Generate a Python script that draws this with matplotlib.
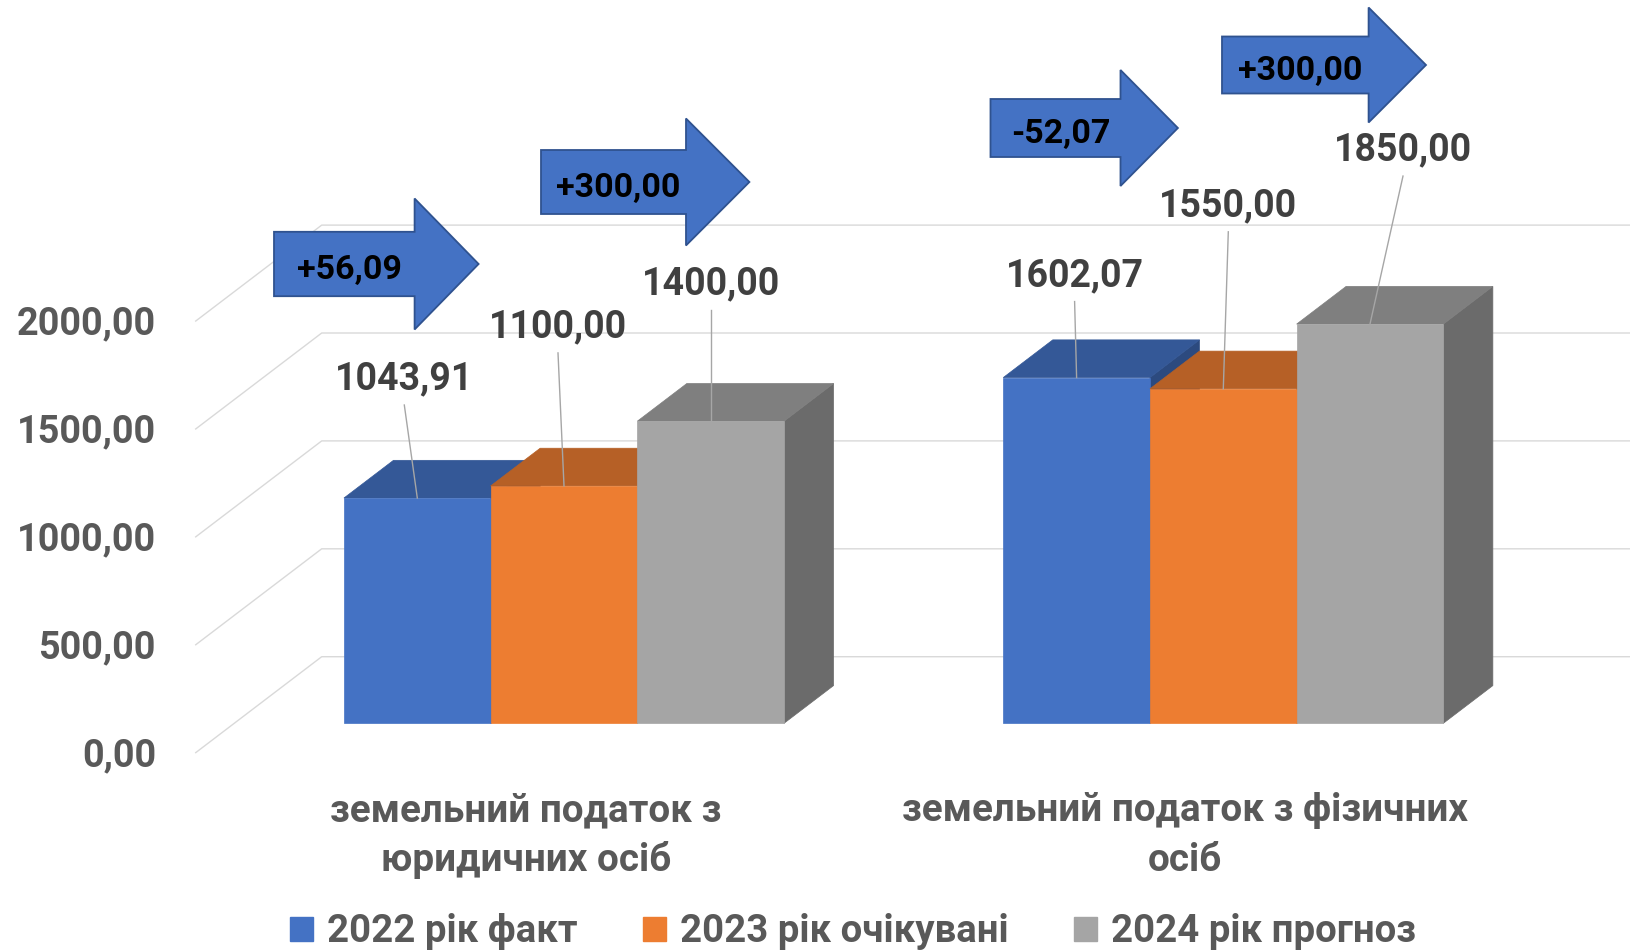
import numpy as np
import matplotlib.pyplot as plt
import matplotlib.colors as mcolors
from matplotlib.patches import Polygon, Rectangle, Patch

# дані
categories = ["земельний податок з\nюридичних осіб",
              "земельний податок з фізичних\nосіб"]
series = ["2022 рік факт", "2023 рік очікувані", "2024 рік прогноз"]
v2022 = [1043.91, 1602.07]
v2023 = [1100.00, 1550.00]
v2024 = [1400.00, 1850.00]
yticks = [0, 500, 1000, 1500, 2000]
colors = ["#4472C4", "#ED7D31", "#A5A5A5"]

values = [v2022, v2023, v2024]

# геометрія "3D" (пікселі картинки 1631x951)
W, H = 1631, 951
PXX, PXY = 659.3, 0.2158      # px на одиницю категорії / на одиницю значення
X0, Y0 = 564, 723.3           # положення (0, 0) у пікселях


def px(x, y):
    return (x - X0) / PXX, (Y0 - y) / PXY


def fmt(v):
    return f"{v:.2f}".replace(".", ",")


plt.rcParams['font.family'] = ['Roboto', 'DejaVu Sans']
fig = plt.figure(figsize=(W / 100, H / 100), dpi=100)
ax = fig.add_axes([0, 0, 1, 1])
xmin, ymax = px(0, 0)
xmax, ymin = px(W, H)
ax.set_xlim(xmin, xmax)
ax.set_ylim(ymin, ymax)
ax.axis('off')

# сітка: ліва стінка + задня стінка
wall_front_x, wall_back_x = -0.5586, -0.3675
front_off, back_off = -136, 308.6
for t in yticks:
    ax.plot([wall_front_x, wall_back_x, xmax],
            [t + front_off, t + back_off, t + back_off],
            color="#D9D9D9", lw=1.0, zorder=1)
    ax.text(-0.619, t + front_off - 13.5 / PXY, fmt(t), ha="right",
            va="baseline", fontsize=27.3, fontweight="bold", color="#595959")

# стовпчики
bw = 0.2225
ddx, ddy = 0.0751, 174.7
label_off = [[(-13, 122), (-2, 105)],
             [(-6, 162), (5, 186)],
             [(0, 140), (33, 177)]]
z = 2
for g in range(len(categories)):
    for i in range(len(series)):
        v = values[i][g]
        c = np.array(mcolors.to_rgb(colors[i]))
        xc = g + (i - 1) * bw
        xl, xr = xc - bw / 2, xc + bw / 2
        ax.add_patch(Polygon([(xr, 0), (xr + ddx, ddy), (xr + ddx, v + ddy), (xr, v)],
                             closed=True, fc=c * 0.65, ec=c * 0.65, lw=0.5, zorder=z))
        ax.add_patch(Polygon([(xl, v), (xl + ddx, v + ddy), (xr + ddx, v + ddy), (xr, v)],
                             closed=True, fc=c * 0.77, ec=c * 0.77, lw=0.5, zorder=z))
        ax.add_patch(Rectangle((xl, 0), bw, v, fc=c, ec=c, lw=0.5, zorder=z))
        z += 1

        dx, dy = label_off[i][g]
        lx, ly = xc + dx / PXX, v + dy / PXY
        ax.plot([lx, xc], [ly - 29 / PXY, v], color="#A6A6A6", lw=1.0, zorder=20)
        ax.text(lx, ly - 13.5 / PXY, fmt(v), ha="center", va="baseline",
                fontsize=27, fontweight="bold", color="#404040", zorder=21)

# стрілки з різницями
diffs = [v2023[0] - v2022[0], v2024[0] - v2023[0],
         v2023[1] - v2022[1], v2024[1] - v2023[1]]
# (лівий край, центр по y, довжина тіла, висота тіла, довжина голови, висота голови) у px
arrows = [(274, 264, 140.6, 64.4, 64, 131),
          (541, 182, 145, 64, 63.4, 127),
          (990.5, 128, 130, 58, 57.4, 116),
          (1222, 65, 146.6, 57, 57.4, 115)]
for d, (x, yc, bl, bh, hl, hh) in zip(diffs, arrows):
    pts = [(x, yc - bh / 2), (x + bl, yc - bh / 2), (x + bl, yc - hh / 2),
           (x + bl + hl, yc), (x + bl, yc + hh / 2), (x + bl, yc + bh / 2),
           (x, yc + bh / 2)]
    ax.add_patch(Polygon([px(a, b) for a, b in pts], closed=True,
                         fc="#4472C4", ec="#2F528F", lw=1.3, zorder=30))
    tx, ty = px(x + bl / 2 + 5, yc + 15)
    ax.text(tx, ty, f"{d:+.2f}".replace(".", ","), ha="center", va="baseline",
            fontsize=24.5, fontweight="bold", color="black", zorder=31)

# підписи категорій
for g, cat in enumerate(categories):
    for k, line in enumerate(cat.split("\n")):
        tx, ty = px(X0 + g * PXX - 38, 821 + 50 * k)
        ax.text(tx, ty, line, ha="center", va="baseline", fontsize=27.8,
                fontweight="bold", color="#595959")

# легенда
handles = [Patch(fc=c, ec=c) for c in colors]
fig.legend(handles, series, loc="center", bbox_to_anchor=(853 / W, 1 - 932 / H),
           ncol=3, frameon=False, handlelength=0.6, handleheight=0.6,
           handletextpad=0.37, columnspacing=1.7, labelcolor="#595959",
           prop={"size": 27.6, "weight": "bold"})

fig.savefig("out.png", dpi=100)
